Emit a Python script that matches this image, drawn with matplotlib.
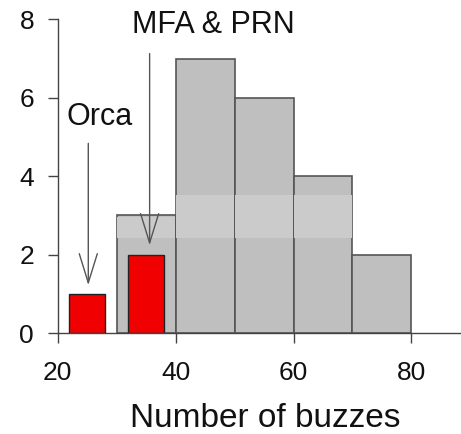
import matplotlib
matplotlib.use("Agg")
import matplotlib.pyplot as plt
from matplotlib.patches import Rectangle

# Data
bin_edges = [30, 40, 50, 60, 70, 80]
counts = [3, 7, 6, 4, 2]
red_left = [22, 32]
red_right = [28, 38]
red_counts = [1, 2]
labels = ["Orca", "MFA & PRN"]
arrow_x = [25.2, 35.6]
arrow_top = [4.84, 7.13]
arrow_tip = [1.22, 2.24]
label_xy = [(27.2, 5.5), (46.4, 7.86)]
xticks = [20, 40, 60, 80]
yticks = [0, 2, 4, 6, 8]

plt.rcParams['font.family'] = ['Liberation Sans', 'DejaVu Sans']

fig = plt.figure(figsize=(4.61, 4.34), dpi=100)
ax = fig.add_axes([0.125, 0.2327, 0.875, 0.7224])

# gray histogram
for i, c in enumerate(counts):
    l, r = bin_edges[i], bin_edges[i + 1]
    ax.bar(l, c, width=r - l, align='edge', color='#bfbfbf',
           edgecolor='#555555', linewidth=1.2, zorder=2)
    # lighter band (image artefact in reference)
    lo, hi = 2.43, min(c, 3.56)
    if c > lo:
        ax.add_patch(Rectangle((l + 0.12, lo), r - l - 0.24, hi - lo - 0.03,
                               facecolor='#cbcbcb', edgecolor='none', zorder=2.5))

# red bars
for l, r, c in zip(red_left, red_right, red_counts):
    ax.bar(l, c, width=r - l, align='edge', color='#f00000',
           edgecolor='#222222', linewidth=1.0, zorder=3)

# arrows
for x, yt, yb in zip(arrow_x, arrow_top, arrow_tip):
    ax.annotate('', xy=(x, yb), xytext=(x, yt),
                arrowprops=dict(arrowstyle='->,head_length=2.1,head_width=0.65',
                                mutation_scale=10,
                                color='#555555', lw=1.0, shrinkA=0, shrinkB=0),
                zorder=4)

for (tx, ty), lab in zip(label_xy, labels):
    ax.text(tx, ty, lab, ha='center', va='center', fontsize=22, color='#111111',
            clip_on=False)

ax.set_xlim(20, 88.4)
ax.set_ylim(0, 8)
ax.spines['top'].set_visible(False)
ax.spines['right'].set_visible(False)
ax.spines['left'].set_color('#444444')
ax.spines['bottom'].set_color('#444444')
ax.spines['left'].set_linewidth(1.0)
ax.spines['bottom'].set_linewidth(1.0)
ax.spines['bottom'].set_zorder(5)
ax.set_xticks(xticks)
ax.set_yticks(yticks)
ax.tick_params(axis='both', direction='out', length=7, width=1.0, color='#444444',
               labelsize=19, labelcolor='#111111')
ax.tick_params(axis='x', pad=13)
ax.tick_params(axis='y', pad=10)
ax.set_facecolor('white')

fig.text(0.575, 0.016, 'Number of buzzes', ha='center', va='baseline',
         fontsize=24, color='#111111')

fig.savefig('out.png', dpi=100)
